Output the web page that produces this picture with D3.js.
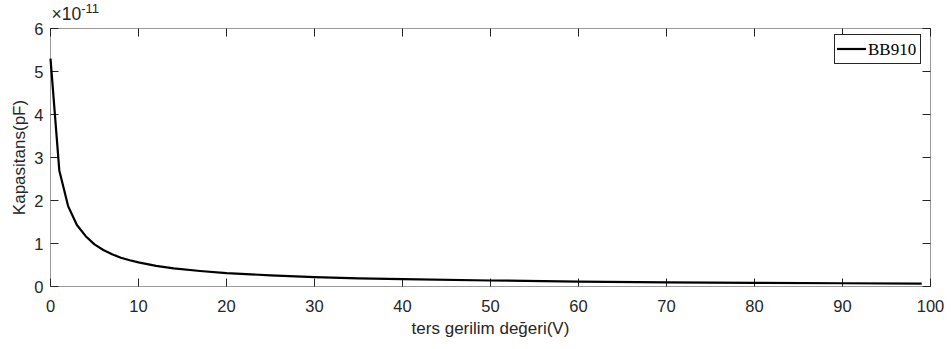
<!DOCTYPE html>
<html>
<head>
<meta charset="utf-8">
<script src="https://cdn.jsdelivr.net/npm/d3@7"></script>
<style>
  body { margin:0; background:#fff; }
  svg text { font-family: "Liberation Sans", Arial, sans-serif; fill:#262626; }
</style>
</head>
<body>
<svg id="chart" width="951" height="349"></svg>
<script>
// reverse voltage (V) and capacitance (x1e-11 F)
var voltage = [0, 1, 2, 3, 4, 5, 6, 7, 8, 9, 10, 12, 14, 17, 20, 25, 30, 35, 40, 50, 60, 70, 80, 90, 99];
var capacitance = [5.30, 2.70, 1.87, 1.43, 1.17, 0.98, 0.85, 0.75, 0.67, 0.61, 0.56, 0.48, 0.42, 0.36, 0.31,
                   0.26, 0.22, 0.19, 0.17, 0.14, 0.115, 0.095, 0.085, 0.075, 0.068];
var xTicks = [0, 10, 20, 30, 40, 50, 60, 70, 80, 90, 100];
var yTicks = [0, 1, 2, 3, 4, 5, 6];
var seriesName = "BB910";

var data = voltage.map(function(v, i){ return {x: v, y: capacitance[i]}; });

// plot area (note: "top" is a reserved window property, so pLeft etc.)
var pLeft = 50.5, pRight = 930.5, pTop = 28.5, pBottom = 286.5;
var svg = d3.select("#chart");

var x = d3.scaleLinear().domain([0, 100]).range([pLeft, pRight]);
var y = d3.scaleLinear().domain([0, 6]).range([pBottom, pTop]);

// box
svg.append("rect")
  .attr("x", pLeft).attr("y", pTop)
  .attr("width", pRight-pLeft).attr("height", pBottom-pTop)
  .attr("fill", "none").attr("stroke", "#9a9a9a").attr("stroke-width", 1);

var tickLen = 8;
// x axis ticks, bottom and top, pointing inwards
var xa = svg.append("g").attr("class", "xaxis");
xTicks.forEach(function(t){
  xa.append("line").attr("x1", x(t)).attr("x2", x(t))
    .attr("y1", pBottom).attr("y2", pBottom - tickLen).attr("stroke", "#262626");
  xa.append("line").attr("x1", x(t)).attr("x2", x(t))
    .attr("y1", pTop).attr("y2", pTop + tickLen).attr("stroke", "#262626");
  xa.append("text").attr("x", x(t)).attr("y", pBottom + 25)
    .attr("text-anchor", "middle").style("font-size", "16.5px").text(t);
});

// y axis ticks, left and right
var ya = svg.append("g").attr("class", "yaxis");
yTicks.forEach(function(t){
  ya.append("line").attr("x1", pLeft).attr("x2", pLeft + tickLen)
    .attr("y1", y(t)).attr("y2", y(t)).attr("stroke", "#262626");
  ya.append("line").attr("x1", pRight).attr("x2", pRight - tickLen)
    .attr("y1", y(t)).attr("y2", y(t)).attr("stroke", "#262626");
  ya.append("text").attr("x", pLeft - 7).attr("y", y(t) + 6)
    .attr("text-anchor", "end").style("font-size", "16.5px").text(t);
});

// exponent label
var ex = svg.append("text").attr("x", pLeft + 1).attr("y", 20).style("font-size", "17.5px");
ex.append("tspan").text("\u00d710");
ex.append("tspan").attr("dy", -7).style("font-size", "13px").text("-11");

// axis titles
svg.append("text").attr("x", (pLeft + pRight) / 2).attr("y", 334)
  .attr("text-anchor", "middle").style("font-size", "17px").text("ters gerilim de\u011feri(V)");
svg.append("text")
  .attr("transform", "translate(25," + ((pTop + pBottom) / 2) + ") rotate(-90)")
  .attr("text-anchor", "middle").style("font-size", "17px").text("Kapasitans(pF)");

// curve
svg.append("path").datum(data)
  .attr("fill", "none").attr("stroke", "#000").attr("stroke-width", 2.2)
  .attr("stroke-linejoin", "round")
  .attr("d", d3.line().x(function(d){ return x(d.x); }).y(function(d){ return y(d.y); }));

// legend
var lg = svg.append("g");
lg.append("rect").attr("x", 834.5).attr("y", 34.5).attr("width", 86).attr("height", 29)
  .attr("fill", "#fff").attr("stroke", "#262626").attr("stroke-width", 1);
lg.append("line").attr("x1", 837).attr("x2", 866).attr("y1", 49).attr("y2", 49)
  .attr("stroke", "#000").attr("stroke-width", 2.2);
lg.append("text").attr("x", 868).attr("y", 55)
  .style("font-family", "'Liberation Serif', 'Times New Roman', serif").style("font-size", "17px")
  .style("fill", "#000").text(seriesName);
</script>
</body>
</html>
